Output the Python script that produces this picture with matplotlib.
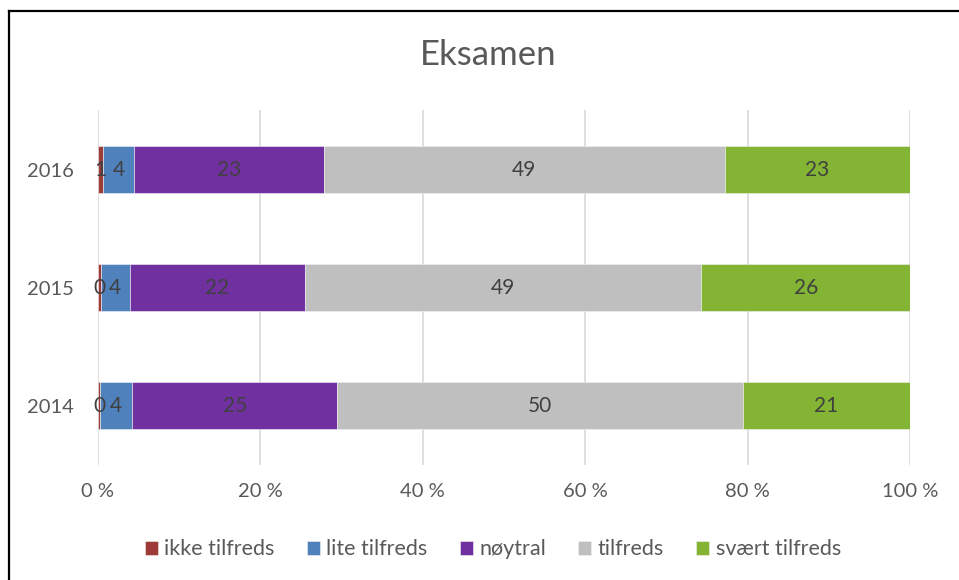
import numpy as np
import matplotlib.pyplot as plt
from matplotlib.lines import Line2D

# Данные
years = ["2014", "2015", "2016"]
categories = ["ikke tilfreds", "lite tilfreds", "nøytral", "tilfreds", "svært tilfreds"]
ikke_tilfreds = [0.3, 0.35, 0.6]
lite_tilfreds = [3.9, 3.6, 3.9]
noytral = [25.3, 21.6, 23.3]
tilfreds = [49.9, 48.8, 49.4]
svaert_tilfreds = [20.6, 25.7, 22.8]
colors = ["#9E3A38", "#4F81BD", "#7030A0", "#BFBFBF", "#83B433"]
x_ticks = [0, 20, 40, 60, 80, 100]

plt.rcParams['font.family'] = ['Lato', 'DejaVu Sans']

fig = plt.figure(figsize=(9.59, 5.8), dpi=100)
ax = fig.add_axes([0.102, 0.199, 0.847, 0.6105])

series = [ikke_tilfreds, lite_tilfreds, noytral, tilfreds, svaert_tilfreds]
totals = np.sum(series, axis=0)
y = np.arange(len(years))
left = np.zeros(len(years))
for name, vals, col in zip(categories, series, colors):
    pct = np.array(vals) / totals * 100
    ax.barh(y, pct, left=left, height=0.4, color=col, label=name,
            edgecolor="#F2F2F2", linewidth=0.4, zorder=3)
    for yi, l, w, v in zip(y, left, pct, vals):
        ax.text(l + w / 2, yi, f"{v:.0f}", ha="center", va="center",
                fontsize=15, color="#404040", zorder=4)
    left += pct

ax.set_xlim(0, 100)
ax.set_ylim(-0.5, 2.5)
ax.set_xticks(x_ticks)
ax.set_xticklabels([f"{t} %" for t in x_ticks])
ax.set_yticks(y)
ax.set_yticklabels(years)
ax.tick_params(axis="both", length=0, colors="#595959", labelsize=14.5)
ax.tick_params(axis="x", pad=13)
ax.tick_params(axis="y", pad=17)
ax.grid(axis="x", color="#D9D9D9", linewidth=1.2, zorder=0)
for s in ax.spines.values():
    s.set_visible(False)

fig.text(0.509, 0.905, "Eksamen", ha="center", va="center",
         fontsize=25, color="#595959")

ax.legend(loc="center", bbox_to_anchor=(0.514, 0.053), bbox_transform=fig.transFigure,
          ncol=5, frameon=False, fontsize=15.5, handlelength=0.6, handleheight=0.6,
          handletextpad=0.3, columnspacing=1.5, labelcolor="#595959")

# Рамка
fig.add_artist(Line2D([0.009, 0.009], [0, 0.981], transform=fig.transFigure,
                      color="black", linewidth=1.6))
fig.add_artist(Line2D([0.009, 1], [0.981, 0.981], transform=fig.transFigure,
                      color="black", linewidth=1.6))

fig.savefig("out.png", dpi=100)
